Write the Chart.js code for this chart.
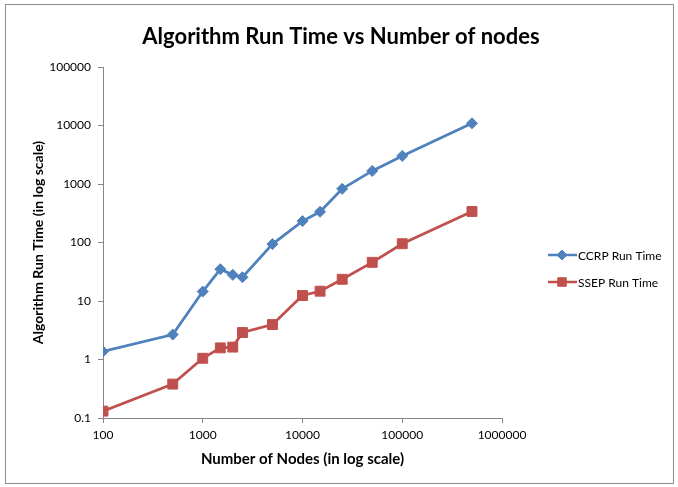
<!DOCTYPE html>
<html>
<head>
<meta charset="utf-8">
<script src="https://cdn.jsdelivr.net/npm/chart.js@4/dist/chart.umd.min.js"></script>
<style>
  html, body { margin: 0; padding: 0; background: #fff; }
  #wrap { width: 678px; height: 487px; }
</style>
</head>
<body>
<div id="wrap"><canvas id="runChart" width="678" height="487"></canvas></div>
<script>
// Number of nodes (x) and run times (y)
const nodes = [100, 500, 1000, 1500, 2000, 2500, 5000, 10000, 15000, 25000, 50000, 100000, 500000];
const ccrpTime = [1.37, 2.67, 14.5, 35, 28, 25.5, 94, 232, 335, 826, 1675, 3020, 10900];
const ssepTime = [0.131, 0.38, 1.05, 1.58, 1.63, 2.89, 3.96, 12.4, 14.7, 23.5, 45.8, 95.3, 339];

const xTicks = [100, 1000, 10000, 100000, 1000000];
const yTicks = [0.1, 1, 10, 100, 1000, 10000, 100000];

const chartTitle = "Algorithm Run Time vs Number of nodes";
const seriesNames = ["CCRP Run Time", "SSEP Run Time"];
const BLUE = "#4F81BD";
const RED = "#C0504D";
const FONT = "Lato, 'Liberation Sans', sans-serif";
const AXIS = "#868686";

function toPoints(xs, ys) {
  return xs.map((x, i) => ({ x: x, y: ys[i] }));
}

// outer frame, white background, and the title centred on the whole frame
const framePlugin = {
  id: "frame",
  beforeDraw(chart) {
    const ctx = chart.ctx;
    ctx.save();
    ctx.fillStyle = "#fff";
    ctx.fillRect(0, 0, chart.width, chart.height);
    ctx.strokeStyle = "#8c8c8c";
    ctx.lineWidth = 1;
    ctx.strokeRect(5.5, 4.5, 668, 479);
    ctx.fillStyle = "#000";
    ctx.font = "bold 22px " + FONT;
    ctx.textAlign = "center";
    ctx.textBaseline = "middle";
    ctx.fillText(chartTitle, 341, 37);
    ctx.restore();
  }
};

// legend drawn on the right like the excel one (line through marker)
const sideLegend = {
  id: "sideLegend",
  afterDraw(chart) {
    const ctx = chart.ctx;
    const rows = [
      { y: 255, ds: chart.data.datasets[0] },
      { y: 282, ds: chart.data.datasets[1] }
    ];
    ctx.save();
    rows.forEach(r => {
      ctx.strokeStyle = r.ds.borderColor;
      ctx.lineWidth = 2.5;
      ctx.beginPath();
      ctx.moveTo(548, r.y);
      ctx.lineTo(577, r.y);
      ctx.stroke();
      ctx.fillStyle = r.ds.pointBackgroundColor;
      ctx.strokeStyle = r.ds.pointBorderColor;
      ctx.lineWidth = 1;
      Chart.helpers.drawPoint(ctx, {
        pointStyle: r.ds.pointStyle,
        radius: r.ds.pointStyle === "rect" ? 6 : 5,
        rotation: 0,
        borderWidth: 1
      }, 562, r.y);
      ctx.fillStyle = "#000";
      ctx.font = "12px " + FONT;
      ctx.textBaseline = "middle";
      ctx.textAlign = "left";
      ctx.fillText(r.ds.label, 578, r.y + 1);
    });
    ctx.restore();
  }
};

new Chart(document.getElementById("runChart"), {
  type: "scatter",
  data: {
    datasets: [
      {
        label: seriesNames[0],
        data: toPoints(nodes, ccrpTime),
        showLine: true,
        borderColor: BLUE,
        borderWidth: 2.75,
        pointStyle: "rectRot",
        pointRadius: 5.5,
        pointHoverRadius: 5.5,
        pointBackgroundColor: BLUE,
        pointBorderColor: BLUE,
        pointBorderWidth: 1
      },
      {
        label: seriesNames[1],
        data: toPoints(nodes, ssepTime),
        showLine: true,
        borderColor: RED,
        borderWidth: 2.75,
        pointStyle: "rect",
        pointRadius: 7,
        pointHoverRadius: 7,
        pointBackgroundColor: RED,
        pointBorderColor: RED,
        pointBorderWidth: 1
      }
    ]
  },
  options: {
    responsive: false,
    animation: false,
    layout: { padding: { left: 26, right: 176, top: 67, bottom: 14 } },
    plugins: {
      legend: { display: false },
      tooltip: { enabled: false },
      title: { display: false }
    },
    scales: {
      x: {
        type: "logarithmic",
        min: 100,
        max: 1000000,
        afterBuildTicks: s => { s.ticks = xTicks.map(v => ({ value: v })); },
        afterFit: s => { s.height = 487 - 14 - 418; },
        ticks: {
          color: "#000",
          font: { family: FONT, size: 12 },
          padding: 5,
          maxRotation: 0,
          autoSkip: false,
          callback: v => String(v)
        },
        grid: { drawOnChartArea: false, drawTicks: true, tickLength: 5, color: AXIS },
        border: { color: AXIS, width: 1 },
        title: {
          display: true,
          text: "Number of Nodes (in log scale)",
          color: "#000",
          font: { family: FONT, size: 15, weight: "bold" },
          padding: { top: 4, bottom: 5 }
        }
      },
      y: {
        type: "logarithmic",
        min: 0.1,
        max: 100000,
        afterBuildTicks: s => { s.ticks = yTicks.map(v => ({ value: v })); },
        afterFit: s => { s.width = 77; },
        ticks: {
          color: "#000",
          font: { family: FONT, size: 12 },
          padding: 7,
          autoSkip: false,
          callback: v => String(v)
        },
        grid: { drawOnChartArea: false, drawTicks: true, tickLength: 5, color: AXIS },
        border: { color: AXIS, width: 1 },
        title: {
          display: true,
          text: "Algorithm Run Time (in log scale)",
          color: "#000",
          font: { family: FONT, size: 14, weight: "bold" },
          padding: { top: 4, bottom: 4 }
        }
      }
    }
  },
  plugins: [framePlugin, sideLegend]
});
</script>
</body>
</html>
